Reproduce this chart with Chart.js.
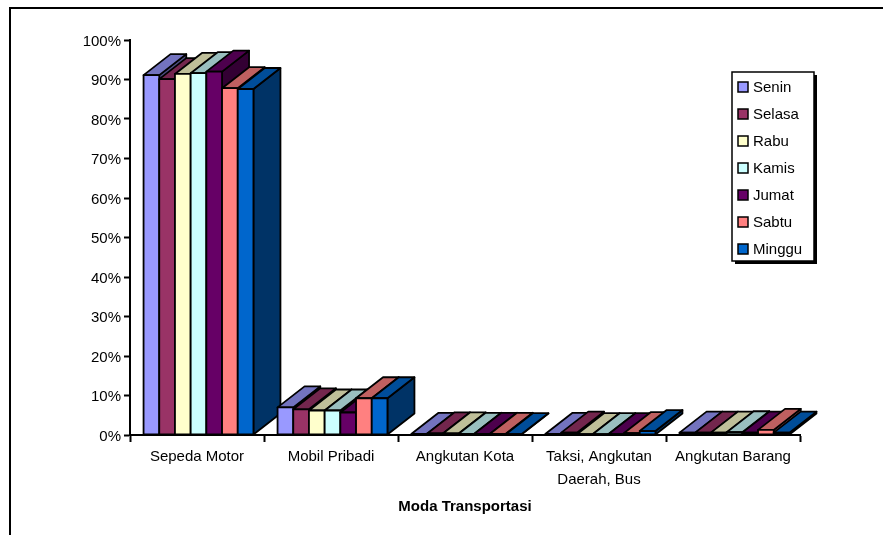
<!DOCTYPE html>
<html>
<head>
<meta charset="utf-8">
<script src="https://cdn.jsdelivr.net/npm/chart.js@4"></script>
<style>
  body { margin: 0; background: #fff; }
  canvas { display: block; }
</style>
</head>
<body>
<canvas id="chart" width="883" height="535"></canvas>
<script>
// moda transportasi (kategori sumbu x)
const categories = ['Sepeda Motor', 'Mobil Pribadi', 'Angkutan Kota', ['Taksi, Angkutan', 'Daerah, Bus'], 'Angkutan Barang'];
const days = ['Senin', 'Selasa', 'Rabu', 'Kamis', 'Jumat', 'Sabtu', 'Minggu'];
const dayColors = ['#9999FF', '#993366', '#FFFFCC', '#CCFFFF', '#660066', '#FF8080', '#0066CC'];

// persentase pengguna tiap moda per hari
const senin  = [91.1, 7.0, 0.3, 0.3, 0.6];
const selasa = [90.1, 6.5, 0.4, 0.6, 0.6];
const rabu   = [91.4, 6.2, 0.4, 0.2, 0.6];
const kamis  = [91.6, 6.2, 0.3, 0.2, 0.7];
const jumat  = [92.0, 5.7, 0.3, 0.2, 0.6];
const sabtu  = [87.8, 9.3, 0.3, 0.5, 1.3];
const minggu = [87.6, 9.3, 0.2, 1.0, 0.6];
const series = [senin, selasa, rabu, kamis, jumat, sabtu, minggu];

const yTicks = [0, 10, 20, 30, 40, 50, 60, 70, 80, 90, 100];

const FONT = '"Liberation Sans", Arial, sans-serif';
const DX = 27, DY = 21; // kedalaman balok 3D

function shade(hex, f) {
  const n = parseInt(hex.slice(1), 16);
  const r = Math.round(((n >> 16) & 255) * f);
  const g = Math.round(((n >> 8) & 255) * f);
  const b = Math.round((n & 255) * f);
  return `rgb(${r},${g},${b})`;
}

function face(ctx, pts, fill) {
  ctx.beginPath();
  ctx.moveTo(pts[0][0], pts[0][1]);
  for (let k = 1; k < pts.length; k++) ctx.lineTo(pts[k][0], pts[k][1]);
  ctx.closePath();
  ctx.fillStyle = fill;
  ctx.fill();
  ctx.stroke();
}

// gambar batang sebagai balok: sisi kanan, atas, lalu muka depan
const bars3d = {
  id: 'bars3d',
  beforeDatasetsDraw(chart) {
    const ctx = chart.ctx;
    ctx.save();
    ctx.lineWidth = 1.8;
    ctx.strokeStyle = '#000';
    ctx.lineJoin = 'round';
    for (let i = 0; i < categories.length; i++) {
      chart.data.datasets.forEach((ds, d) => {
        const bar = chart.getDatasetMeta(d).data[i];
        const c = ds.backgroundColor;
        const l = bar.x - bar.width / 2 + 1.5, r = bar.x + bar.width / 2 + 1.5;
        const t = bar.y, b = bar.base;
        face(ctx, [[r, t], [r + DX, t - DY], [r + DX, b - DY], [r, b]], shade(c, 0.5));
        face(ctx, [[l, t], [r, t], [r + DX, t - DY], [l + DX, t - DY]], shade(c, 0.75));
        face(ctx, [[l, t], [r, t], [r, b], [l, b]], c);
      });
    }
    ctx.restore();
    return false;
  }
};

// bingkai area grafik
const frame = {
  id: 'frame',
  beforeDraw(chart) {
    const ctx = chart.ctx;
    ctx.save();
    ctx.fillStyle = '#fff';
    ctx.fillRect(0, 0, chart.width, chart.height);
    ctx.strokeStyle = '#000';
    ctx.lineWidth = 2;
    ctx.beginPath();
    ctx.moveTo(10, chart.height);
    ctx.lineTo(10, 8);
    ctx.lineTo(chart.width, 8);
    ctx.stroke();
    ctx.restore();
  }
};

// legenda dengan bayangan di kanan atas
const dayLegend = {
  id: 'dayLegend',
  afterDraw(chart) {
    const ctx = chart.ctx;
    const x = 732, y = 72, w = 82, h = 189;
    ctx.save();
    ctx.fillStyle = '#000';
    ctx.fillRect(x + 3, y + 3, w, h);
    ctx.fillStyle = '#fff';
    ctx.fillRect(x, y, w, h);
    ctx.strokeStyle = '#000';
    ctx.lineWidth = 1.5;
    ctx.strokeRect(x, y, w, h);
    ctx.font = '15px ' + FONT;
    ctx.textBaseline = 'middle';
    chart.data.datasets.forEach((ds, d) => {
      const cy = y + 15 + d * 27;
      ctx.fillStyle = ds.backgroundColor;
      ctx.fillRect(x + 6, cy - 5, 10, 10);
      ctx.lineWidth = 1.5;
      ctx.strokeRect(x + 6, cy - 5, 10, 10);
      ctx.fillStyle = '#000';
      ctx.fillText(ds.label, x + 21, cy + 1);
    });
    ctx.restore();
  }
};

Chart.defaults.font.family = FONT;
Chart.defaults.color = '#000';

new Chart(document.getElementById('chart'), {
  type: 'bar',
  data: {
    labels: categories,
    datasets: days.map((day, d) => ({
      label: day,
      data: series[d],
      backgroundColor: dayColors[d]
    }))
  },
  options: {
    responsive: false,
    animation: false,
    devicePixelRatio: 1,
    layout: { padding: { left: 0, top: 40, right: 83, bottom: 0 } },
    datasets: { bar: { categoryPercentage: 0.82, barPercentage: 1 } },
    plugins: { legend: { display: false }, tooltip: { enabled: false } },
    scales: {
      x: {
        grid: { drawOnChartArea: false, offset: true, tickLength: 7, tickWidth: 2, tickColor: '#000' },
        border: { color: '#000', width: 2 },
        ticks: { font: { size: 15, lineHeight: 1.53 }, padding: 3, maxRotation: 0, autoSkip: false },
        title: {
          display: true,
          text: 'Moda Transportasi',
          font: { size: 15, weight: 'bold' },
          padding: { top: 0, bottom: 19 }
        },
        afterFit(scale) { scale.height = 100; }
      },
      y: {
        min: 0,
        max: 100,
        afterBuildTicks(scale) { scale.ticks = yTicks.map(v => ({ value: v })); },
        ticks: { callback: v => v + '%', font: { size: 15 }, padding: 3, labelOffset: 1.5 },
        grid: { drawOnChartArea: false, tickLength: 6, tickWidth: 2, tickColor: '#000' },
        border: { color: '#000', width: 2 },
        afterFit(scale) { scale.width = 130; }
      }
    }
  },
  plugins: [frame, bars3d, dayLegend]
});
</script>
</body>
</html>
